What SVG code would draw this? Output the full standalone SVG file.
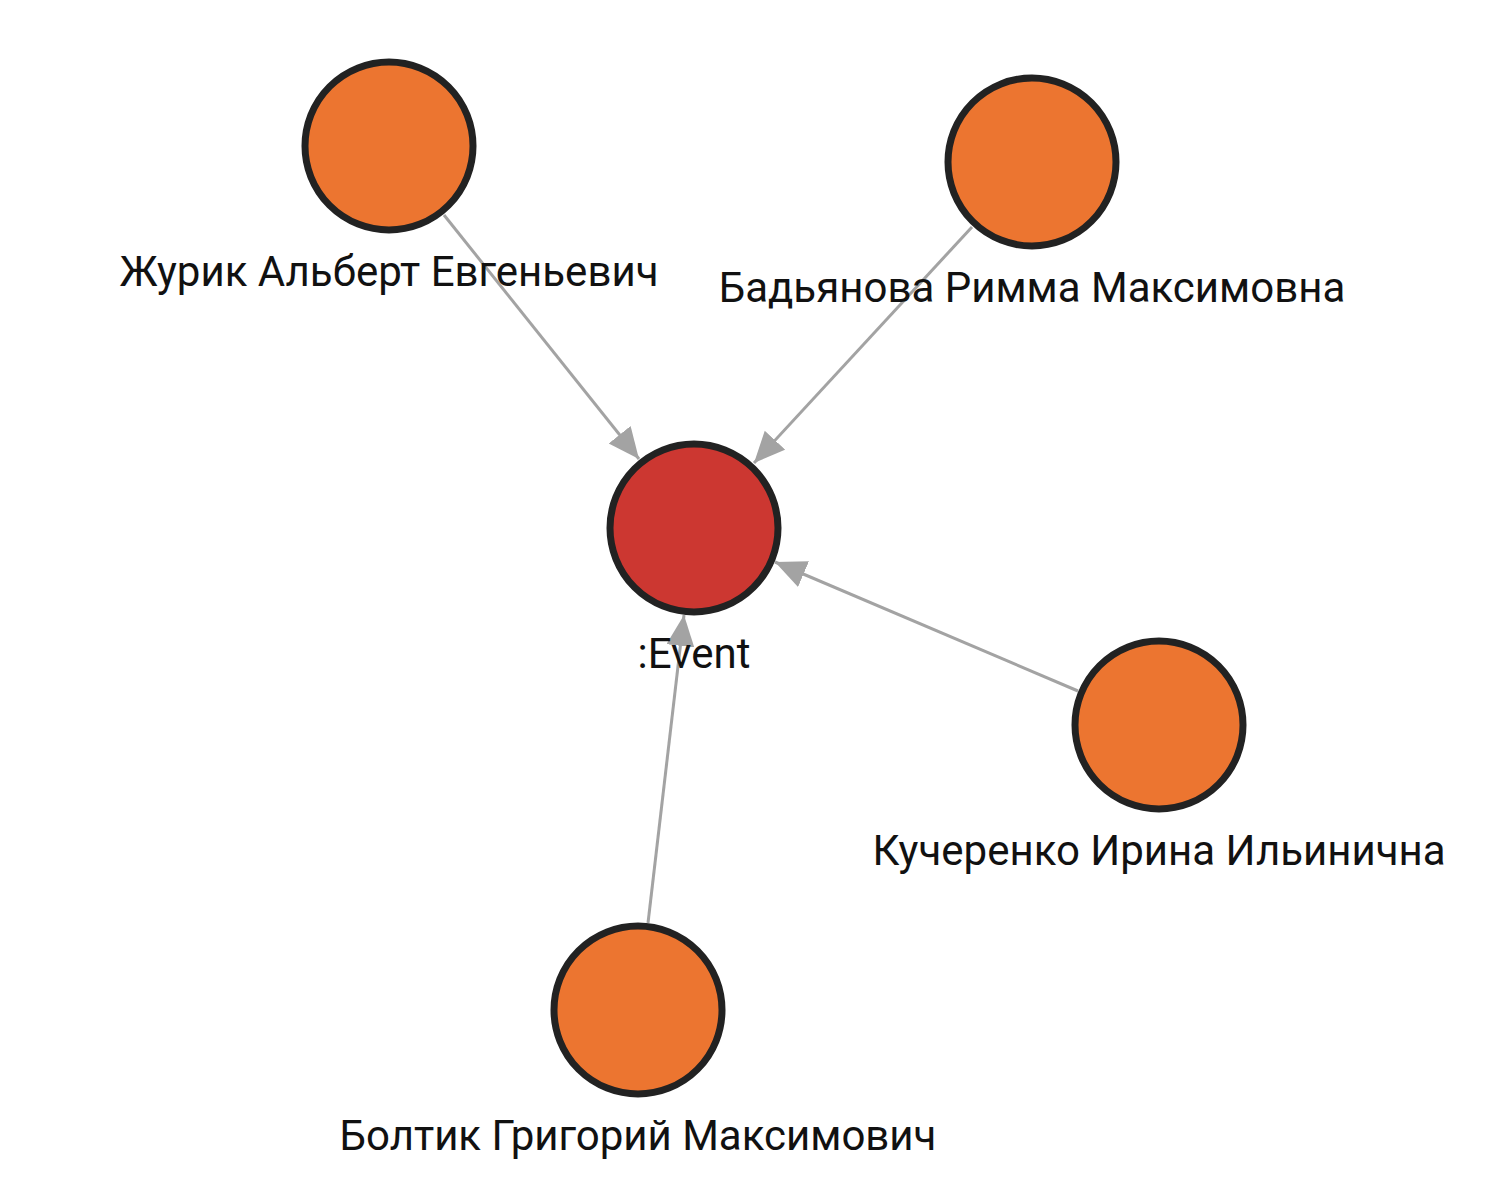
<svg xmlns="http://www.w3.org/2000/svg" width="1506" height="1192" viewBox="0 0 1506 1192">
<style>
.edge{stroke:#a3a3a3;stroke-width:3;fill:none;marker-end:url(#arrow)}
.person{fill:#ec7530;stroke:#222;stroke-width:7}
.event{fill:#cc3731;stroke:#222;stroke-width:7}
.label{font-family:Roboto,"Liberation Sans",sans-serif;font-size:42px;fill:#111;text-anchor:middle}
</style>
<defs>
<marker id="arrow" markerUnits="userSpaceOnUse" markerWidth="34" markerHeight="30" refX="31" refY="14" orient="auto">
<path d="M0,0 L31,14 L0,28 z" fill="#a3a3a3"/>
</marker>
</defs>
<rect width="1506" height="1192" fill="#fff"/>
<g id="edges">
<line class="edge" x1="444" y1="215" x2="639" y2="459"/>
<line class="edge" x1="972" y1="227" x2="754" y2="463"/>
<line class="edge" x1="1078" y1="691" x2="775" y2="562"/>
<line class="edge" x1="648" y1="923" x2="684" y2="615"/>
</g>
<g id="node-zhurik">
<circle class="person" cx="389" cy="146" r="84"/>
<text class="label" x="389" y="286">Журик Альберт Евгеньевич</text>
</g>
<g id="node-badyanova">
<circle class="person" cx="1032" cy="162" r="84"/>
<text class="label" x="1032" y="302">Бадьянова Римма Максимовна</text>
</g>
<g id="node-event">
<circle class="event" cx="694" cy="528" r="84"/>
<text class="label" x="694" y="668">:Event</text>
</g>
<g id="node-kucherenko">
<circle class="person" cx="1159" cy="725" r="84"/>
<text class="label" x="1159" y="865">Кучеренко Ирина Ильинична</text>
</g>
<g id="node-boltik">
<circle class="person" cx="638" cy="1010" r="84"/>
<text class="label" x="638" y="1150">Болтик Григорий Максимович</text>
</g>
</svg>
